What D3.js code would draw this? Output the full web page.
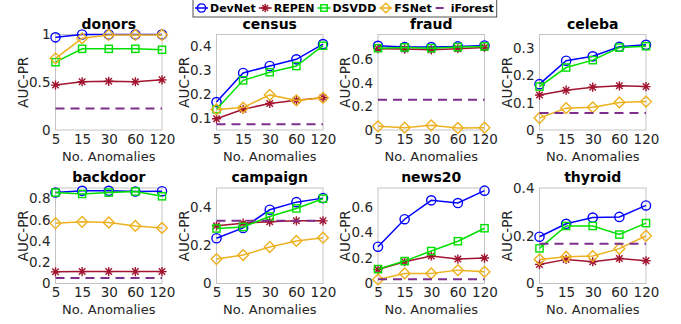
<!DOCTYPE html>
<html>
<head>
<meta charset="utf-8">
<script src="https://cdn.jsdelivr.net/npm/d3@7"></script>
<style>
body { margin: 0; background: #fff; }
text { font-family: "DejaVu Sans", sans-serif; }
</style>
</head>
<body>
<div id="chart"></div>
<script>
// ---- data ----------------------------------------------------------
var datasets = ["donors", "census", "fraud", "celeba", "backdoor", "campaign", "news20", "thyroid"];
var xTicks = ["5", "15", "30", "60", "120"];
var methods = ["DevNet", "REPEN", "DSVDD", "FSNet", "iForest"];

// one row per dataset, same order as datasets
var devnet = [
    [0.97, 1.0, 1.0, 1.0, 1.0],
    [0.167, 0.289, 0.318, 0.346, 0.41],
    [0.714, 0.703, 0.703, 0.709, 0.717],
    [0.168, 0.254, 0.27, 0.305, 0.312],
    [0.857, 0.873, 0.873, 0.867, 0.87],
    [0.237, 0.291, 0.386, 0.426, 0.447],
    [0.289, 0.505, 0.653, 0.632, 0.729],
    [0.196, 0.25, 0.276, 0.279, 0.327]
];
var repen = [
    [0.47, 0.505, 0.51, 0.505, 0.525],
    [0.097, 0.137, 0.161, 0.175, 0.185],
    [0.689, 0.686, 0.68, 0.689, 0.7],
    [0.128, 0.146, 0.157, 0.162, 0.159],
    [0.11, 0.112, 0.112, 0.112, 0.112],
    [0.302, 0.316, 0.323, 0.328, 0.328],
    [0.11, 0.171, 0.216, 0.192, 0.2],
    [0.08, 0.101, 0.091, 0.105, 0.095]
];
var dsvdd = [
    [0.71, 0.85, 0.85, 0.85, 0.84],
    [0.137, 0.258, 0.292, 0.318, 0.403],
    [0.694, 0.7, 0.694, 0.703, 0.709],
    [0.159, 0.229, 0.256, 0.302, 0.307],
    [0.857, 0.844, 0.857, 0.867, 0.822],
    [0.288, 0.296, 0.351, 0.393, 0.444],
    [0.113, 0.176, 0.255, 0.332, 0.434],
    [0.147, 0.241, 0.241, 0.205, 0.253]
];
var fsnet = [
    [0.75, 0.96, 0.995, 0.995, 0.995],
    [0.136, 0.144, 0.197, 0.174, 0.185],
    [0.031, 0.02, 0.04, 0.017, 0.02],
    [0.044, 0.08, 0.083, 0.101, 0.104],
    [0.568, 0.581, 0.575, 0.543, 0.524],
    [0.128, 0.149, 0.191, 0.223, 0.24],
    [0.032, 0.079, 0.079, 0.105, 0.092],
    [0.101, 0.112, 0.115, 0.146, 0.2]
];
// iForest does not use labels: one flat value per dataset
var iforest = [0.225, 0.074, 0.257, 0.062, 0.051, 0.328, 0.034, 0.167];

var yDomains = [[0, 1], [0.05, 0.45], [0, 0.81], [0, 0.35], [0, 0.9], [0, 0.5], [0, 0.75], [0, 0.4]];
var yTicks = [
    [0, 0.5, 1],
    [0.1, 0.2, 0.3, 0.4],
    [0, 0.2, 0.4, 0.6],
    [0, 0.1, 0.2, 0.3],
    [0, 0.2, 0.4, 0.6, 0.8],
    [0, 0.2, 0.4],
    [0, 0.2, 0.4, 0.6],
    [0, 0.2, 0.4]
];

// ---- layout --------------------------------------------------------
var W = 681, H = 324;
var plot_w = 106.5, plot_h = 95.5;
var col_left = [55.5, 216.5, 378, 539.5];
var row_top = [34.5, 188];

var colors = {
    DevNet: "#0000ff",
    REPEN: "#a2142f",
    DSVDD: "#00e000",
    FSNet: "#edb120",
    iForest: "#7e2f8e"
};
var textColor = "#262626";

var svg = d3.select("#chart").append("svg")
    .attr("width", W)
    .attr("height", H);

function asteriskPath(r) {
    var d = r * 0.7071;
    return "M" + (-r) + ",0L" + r + ",0M0," + (-r) + "L0," + r +
        "M" + (-d) + "," + (-d) + "L" + d + "," + d +
        "M" + (-d) + "," + d + "L" + d + "," + (-d);
}

function drawMarker(g, name, cx, cy, s) {
    var c = colors[name];
    s = s || 1;
    if (name === "DevNet") {
        g.append("circle").attr("cx", cx).attr("cy", cy).attr("r", 4.6 * s)
            .attr("fill", "none").attr("stroke", c).attr("stroke-width", 1.4);
    } else if (name === "REPEN") {
        g.append("path").attr("d", asteriskPath(4.6 * s))
            .attr("transform", "translate(" + cx + "," + cy + ")")
            .attr("fill", "none").attr("stroke", c).attr("stroke-width", 1.4);
    } else if (name === "DSVDD") {
        g.append("rect").attr("x", cx - 3.6 * s).attr("y", cy - 3.6 * s)
            .attr("width", 7.2 * s).attr("height", 7.2 * s)
            .attr("fill", "none").attr("stroke", c).attr("stroke-width", 1.4);
    } else if (name === "FSNet") {
        var r = 5.4 * s;
        g.append("path").attr("d", "M0," + (-r) + "L" + r + ",0L0," + r + "L" + (-r) + ",0Z")
            .attr("transform", "translate(" + cx + "," + cy + ")")
            .attr("fill", "none").attr("stroke", c).attr("stroke-width", 1.4);
    }
}

var seriesData = { DevNet: devnet, REPEN: repen, DSVDD: dsvdd, FSNet: fsnet };

datasets.forEach(function (name, i) {
    var row = Math.floor(i / 4), col = i % 4;
    var left = col_left[col], top = row_top[row];
    var g = svg.append("g").attr("transform", "translate(" + left + "," + top + ")");

    var x = d3.scalePoint().domain(xTicks).range([0, plot_w]);
    var y = d3.scaleLinear().domain(yDomains[i]).range([plot_h, 0]);

    // box
    g.append("rect")
        .attr("width", plot_w).attr("height", plot_h)
        .attr("fill", "#fff").attr("stroke", "#c4c4c4").attr("stroke-width", 1);

    // axes
    var xaxis = d3.axisBottom(x).tickSize(0).tickPadding(4);
    var yaxis = d3.axisLeft(y).tickValues(yTicks[i]).tickSize(0).tickPadding(5)
        .tickFormat(function (d) { return d3.format("")(+d.toFixed(2)); });

    var gx = g.append("g").attr("transform", "translate(0," + plot_h + ")").call(xaxis);
    var gy = g.append("g").call(yaxis);
    [gx, gy].forEach(function (a) {
        a.select(".domain").remove();
        a.selectAll("text").attr("fill", textColor).style("font-size", "13.5px")
            .style("font-family", "'DejaVu Sans', sans-serif");
    });

    // labels
    g.append("text")
        .attr("x", plot_w / 2).attr("y", -6)
        .attr("text-anchor", "middle")
        .style("font-size", "14px").style("font-weight", "bold")
        .attr("fill", "#000")
        .text(name);

    g.append("text")
        .attr("x", plot_w / 2).attr("y", plot_h + 30.5)
        .attr("text-anchor", "middle")
        .style("font-size", "13px")
        .attr("fill", textColor)
        .text("No. Anomalies");

    g.append("text")
        .attr("transform", "translate(" + (-28) + "," + (plot_h / 2) + ") rotate(-90)")
        .attr("text-anchor", "middle")
        .style("font-size", "13.5px")
        .attr("fill", textColor)
        .text("AUC-PR");

    var line = d3.line()
        .x(function (d, j) { return x(xTicks[j]); })
        .y(function (d) { return y(d); });

    ["DevNet", "REPEN", "DSVDD", "FSNet"].forEach(function (m) {
        var vals = seriesData[m][i];
        g.append("path")
            .datum(vals)
            .attr("d", line)
            .attr("fill", "none")
            .attr("stroke", colors[m])
            .attr("stroke-width", 1.5);
        vals.forEach(function (v, j) {
            drawMarker(g, m, x(xTicks[j]), y(v));
        });
    });

    // iForest flat dashed line
    g.append("line")
        .attr("x1", x(xTicks[0])).attr("x2", x(xTicks[xTicks.length - 1]))
        .attr("y1", y(iforest[i])).attr("y2", y(iforest[i]))
        .attr("stroke", colors.iForest)
        .attr("stroke-width", 2)
        .attr("stroke-dasharray", "9,6");
});

// ---- legend --------------------------------------------------------
var leg = svg.append("g");
var legBox = leg.append("rect")
    .attr("fill", "#fff").attr("stroke", "#262626").attr("stroke-width", 0.8);
var cursor = 195;
var legY = 8;
methods.forEach(function (m) {
    var seg = 15;
    if (m === "iForest") {
        leg.append("line")
            .attr("x1", cursor + 1).attr("x2", cursor + 9)
            .attr("y1", legY).attr("y2", legY)
            .attr("stroke", colors[m]).attr("stroke-width", 2);
        seg = 16;
    } else {
        leg.append("line")
            .attr("x1", cursor).attr("x2", cursor + seg - 2)
            .attr("y1", legY).attr("y2", legY)
            .attr("stroke", colors[m]).attr("stroke-width", 1.5);
        drawMarker(leg, m, cursor + (seg - 2) / 2, legY, 0.9);
    }
    var t = leg.append("text")
        .attr("x", cursor + seg)
        .attr("y", legY + 4)
        .style("font-size", "11px").style("font-weight", "bold")
        .attr("fill", "#000")
        .text(m);
    cursor += seg + t.node().getComputedTextLength() + 3;
});
legBox.attr("x", 193).attr("y", -1).attr("width", cursor - 193).attr("height", 18);
</script>
</body>
</html>
